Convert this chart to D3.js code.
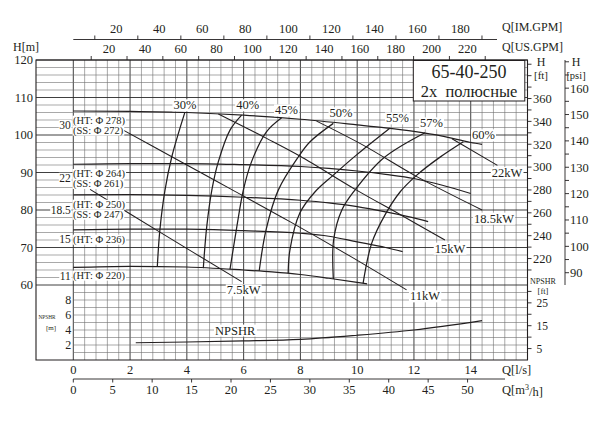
<!DOCTYPE html>
<html><head><meta charset="utf-8">
<script src="https://cdn.jsdelivr.net/npm/d3@7"></script>
<style>
body{margin:0;background:#fff}
svg{display:block}
text{font-family:"Liberation Serif","Times New Roman",serif;fill:#231f20}
</style>
</head><body>
<svg id="c" width="603" height="424"></svg>
<script>
// ---------- DATA ----------
const qLsTicks = [0,2,4,6,8,10,12,14];
const qM3Ticks = [0,5,10,15,20,25,30,35,40,45,50];
const imLabels = [20,40,60,80,100,120,140,160,180];
const imMinor = [10,30,50,70,90,110,130,150,170,190];
const usLabels = [20,40,60,80,100,120,140,160,180,200,220];
const usMinor = [10,30,50,70,90,110,130,150,170,190,210,230];
const hTicks = [60,70,80,90,100,110,120];
const npshTicks = [2,4,6,8];
const ftLabels = [220,240,260,280,300,320,340,360];
const ftMinor = [210,230,250,270,290,310,330,350,370,380,390];
const psiLabels = [90,100,110,120,130,140,150,160];
const psiMinor = [95,105,115,125,135,145,155,165,170];
const npshFtLabels = [5,15,25];
const npshFtMinor = [10,20,30];

// H-Q curves (Q l/s, H m)
const q278 = [0,2,4,6,8,10,11,12,13,14,14.4];
const h278 = [106.4,106.3,106.0,105.3,104.2,102.7,101.9,100.95,99.7,98.0,97.5];
const q264 = [0,2,4,6,8,9,10,11,12,13,14];
const h264 = [92.2,92.4,92.4,92.1,91.6,91.1,90.4,89.5,88.4,86.6,84.4];
const q250 = [0,2,4,6,8,9,10,11,12,12.5];
const h250 = [84.0,84.1,83.9,83.4,82.6,81.9,80.9,79.5,77.9,76.9];
const q236 = [0,2,4,6,8,9,10,11,11.6];
const h236 = [74.7,74.9,74.9,74.5,73.8,73.0,71.5,70.0,68.9];
const q220 = [0,2,4,6,7,8,9,10,10.35];
const h220 = [64.7,65.0,64.8,64.0,63.5,62.8,61.8,60.7,60.3];

// iso-efficiency curves
const e30Q = [2.96,3.05,3.23,3.47,3.93];            const e30H = [65.0,74.7,85.3,94.2,106.05];
const e40Q = [4.58,4.70,4.88,5.11,5.52,5.93];       const e40H = [64.5,75.5,85.3,92.9,101.3,105.3];
const e45Q = [5.52,5.76,5.99,6.28,6.81,7.34];       const e45H = [64.2,75.5,85.3,92.9,100.9,104.6];
const e50Q = [6.55,6.79,7.22,7.93,8.34,9.16];       const e50H = [63.8,74.7,85.3,94.2,98.2,103.1];
const e55Q = [7.57,7.63,7.98,8.51,9.16,9.98,11.15]; const e55H = [63.1,69.3,79.2,84.8,89.3,94.7,101.8];
const e57Q = [9.16,9.17,9.46,9.92,10.92,12.39];     const e57H = [61.6,72.0,80.0,85.3,93.8,100.6];
const e60Q = [10.21,10.51,10.98,11.51,12.1,12.92,13.74]; const e60H = [60.5,71.1,78.7,84.8,89.3,94.1,98.2];
const effNames = ["30%","40%","45%","50%","55%","57%","60%"];

// power lines
const p75Q = [0.59,3.05,5.93];                  const p75H = [85.5,74.1,60.9];
const p11Q = [1.76,3.47,5.52,7.63,9.75,11.74];  const p11H = [101.3,94.2,85.7,76.9,67.7,58.7];
const p15Q = [5.11,6.81,7.98,9.98,11.51,13.09]; const p15H = [105.6,99.1,94.4,85.3,78.8,72.0];
const p185Q = [8.57,10.21,12.10,14.40];         const p185H = [103.7,97.3,88.9,80.0];
const p22Q = [13.34,14.94];                     const p22H = [99.0,91.9];
const powerNames = ["7.5kW","11kW","15kW","18.5kW","22kW"];

// NPSHR
const nQ = [2.2,4,6,8,10,12,14.4];
const nH = [2.3,2.4,2.55,2.75,3.3,4.0,5.25];

// diameter labels
const diamNums = ["30","22","18.5","15","11"];
const diamHT = ["(HT: Φ 278)","(HT: Φ 264)","(HT: Φ 250)","(HT: Φ 236)","(HT: Φ 220)"];
const diamSS = ["(SS: Φ 272)","(SS: Φ 261)","(SS: Φ 247)",null,null];

// ---------- LAYOUT ----------
const W = 603, H = 424;
const x = d3.scaleLinear([0,16],[73.3,527.5]);
const yH = d3.scaleLinear([60,120],[285,60]);
const yN = d3.scaleLinear([0,10],[360,285]);
const LEFT = 36, TOP = 60, BOT = 360, RIGHT = x(16);
const xIM = d3.scaleLinear([0,16*13.198],[x(0),x(16)]);
const xUS = d3.scaleLinear([0,16*15.850],[x(0),x(16)]);
const xM3 = d3.scaleLinear([0,16*3.6],[x(0),x(16)]);
const yFt = d3.scaleLinear([60*3.28084,120*3.28084],[285,60]);
const yPsi = d3.scaleLinear([60/0.70307,120/0.70307],[285,60]);
const yNft = d3.scaleLinear([0,10*3.28084],[360,285]);

const INK = "#231f20";
const svg = d3.select("#c");
svg.append("rect").attr("width",W).attr("height",H).attr("fill","#fff");

const grid = svg.append("g");
const minorC = "#6f6f6f", majorC = "#2a2a2a";
// vertical grid
d3.range(0,40.5,1).forEach(i=>{
  const q = i*0.4, major = i%5===0;
  grid.append("line").attr("x1",x(q)).attr("x2",x(q)).attr("y1",TOP).attr("y2",BOT)
    .attr("stroke",major?majorC:minorC).attr("stroke-width",major?0.9:0.6);
});
// horizontal grid H region
d3.range(60,120.5,2).forEach(h=>{
  const major = h%10===0;
  grid.append("line").attr("x1",LEFT).attr("x2",RIGHT).attr("y1",yH(h)).attr("y2",yH(h))
    .attr("stroke",major?majorC:minorC).attr("stroke-width",major?0.9:0.6);
});
// NPSHR region
d3.range(1,10,1).forEach(n=>{
  grid.append("line").attr("x1",x(0)).attr("x2",RIGHT).attr("y1",yN(n)).attr("y2",yN(n))
    .attr("stroke",minorC).attr("stroke-width",0.6);
});
// frame
grid.append("path").attr("d",`M${LEFT},${TOP}H${RIGHT}V${BOT}H${LEFT}Z`).attr("fill","none").attr("stroke",INK).attr("stroke-width",1.1);

const ax = svg.append("g");
function t(x0,y0,s,size,anchor="middle",g=ax){
  return g.append("text").attr("x",x0).attr("y",y0).attr("dy","0.35em")
    .attr("text-anchor",anchor).style("font-size",size+"px").text(s);
}
// left H axis
hTicks.forEach(h=>t(LEFT-3,yH(h),h,12.5,"end"));
t(26,47,"H[m]",12);
// NPSHR left
npshTicks.forEach(n=>t(x(0)-2,yN(n),n,12,"end"));
t(47,317,"NPSHR",7).attr("textLength",17).attr("lengthAdjust","spacingAndGlyphs");
t(51,328,"[m]",7);

// bottom l/s
qLsTicks.forEach(q=>t(x(q),369.5,q,12.5));
t(502,369.5,"Q[l/s]",12.5,"start");
// m3/h
ax.append("line").attr("x1",xM3(0)).attr("x2",505).attr("y1",379).attr("y2",379).attr("stroke",INK).attr("stroke-width",0.9);
qM3Ticks.forEach(v=>{
  ax.append("line").attr("x1",xM3(v)).attr("x2",xM3(v)).attr("y1",379).attr("y2",382.5).attr("stroke",INK).attr("stroke-width",0.9);
  t(xM3(v),389.5,v,12.5);
});
const m3 = t(502,389.5,"",12.5,"start");
m3.append("tspan").text("Q[m");
m3.append("tspan").text("3").style("font-size","8px").attr("dy","-0.45em");
m3.append("tspan").text("/h]").attr("dy","0.45em");

// top IM axis
const IMY = 39.5;
ax.append("line").attr("x1",xIM(0)).attr("x2",497).attr("y1",IMY).attr("y2",IMY).attr("stroke",INK).attr("stroke-width",0.9);
imMinor.forEach(v=>ax.append("line").attr("x1",xIM(v)).attr("x2",xIM(v)).attr("y1",IMY).attr("y2",IMY-4).attr("stroke",INK).attr("stroke-width",0.9));
imLabels.forEach(v=>t(xIM(v),28.5,v,12.5));
t(502,26.5,"Q[IM.GPM]",12,"start");
// top US axis
usMinor.forEach(v=>ax.append("line").attr("x1",xUS(v)).attr("x2",xUS(v)).attr("y1",TOP).attr("y2",TOP-4).attr("stroke",INK).attr("stroke-width",0.9));
usLabels.forEach(v=>t(xUS(v),49,v,12.5));
t(502,46.5,"Q[US.GPM]",12,"start");

// right ft axis
ftLabels.concat(ftMinor).forEach(v=>ax.append("line").attr("x1",RIGHT).attr("x2",RIGHT+4).attr("y1",yFt(v)).attr("y2",yFt(v)).attr("stroke",INK).attr("stroke-width",0.9));
ftLabels.forEach(v=>t(RIGHT+5.5,yFt(v),v,12.5,"start"));
t(541,62,"H",12);
t(541,75,"[ft]",11);
// psi axis
const PX = 565;
ax.append("line").attr("x1",PX).attr("x2",PX).attr("y1",TOP).attr("y2",285).attr("stroke",INK).attr("stroke-width",0.9);
psiLabels.concat(psiMinor).forEach(v=>ax.append("line").attr("x1",PX).attr("x2",PX+4).attr("y1",yPsi(v)).attr("y2",yPsi(v)).attr("stroke",INK).attr("stroke-width",0.9));
psiLabels.forEach(v=>t(PX+5,yPsi(v),v,12.5,"start"));
t(576,62,"H",12);
t(576,75,"[psi]",10.5);
// NPSHR ft
npshFtLabels.concat(npshFtMinor).forEach(v=>ax.append("line").attr("x1",RIGHT).attr("x2",RIGHT+4).attr("y1",yNft(v)).attr("y2",yNft(v)).attr("stroke",INK).attr("stroke-width",0.9));
npshFtLabels.forEach(v=>t(RIGHT+9,yNft(v),v,11.5,"start"));
t(543,281,"NPSHR",8);
t(543,291.5,"[ft]",8.5);

// ---------- CURVES ----------
const cg = svg.append("g").attr("fill","none").attr("stroke",INK).attr("stroke-width",1.25);
const zip = (a,b)=>a.map((v,i)=>[v,b[i]]);
const lineHQ = d3.line().x(d=>x(d[0])).y(d=>yH(d[1])).curve(d3.curveMonotoneX);
const lineCR = d3.line().x(d=>x(d[0])).y(d=>yH(d[1])).curve(d3.curveCatmullRom.alpha(0.5));
[[q278,h278],[q264,h264],[q250,h250],[q236,h236],[q220,h220]].forEach(([a,b])=>cg.append("path").attr("d",lineHQ(zip(a,b))));
const effs = [[e30Q,e30H],[e40Q,e40H],[e45Q,e45H],[e50Q,e50H],[e55Q,e55H],[e57Q,e57H],[e60Q,e60H]];
effs.forEach(([a,b])=>cg.append("path").attr("d",lineCR(zip(a,b))));
const pows = [[p75Q,p75H],[p11Q,p11H],[p15Q,p15H],[p185Q,p185H],[p22Q,p22H]];
pows.forEach(([a,b])=>cg.append("path").attr("d",lineCR(zip(a,b))).attr("stroke-width",1.1));
const lineN = d3.line().x(d=>x(d[0])).y(d=>yN(d[1])).curve(d3.curveMonotoneX);
cg.append("path").attr("d",lineN(zip(nQ,nH)));

// ---------- LABELS with white background ----------
const lg = svg.append("g");
function lab(x0,y0,s,size,anchor="middle",pad=1){
  const tx = t(x0,y0,s,size,anchor,lg);
  const b = tx.node().getBBox();
  lg.insert("rect",()=>tx.node()).attr("x",b.x-pad).attr("y",b.y+1).attr("width",b.width+2*pad).attr("height",b.height-2).attr("fill","#fff");
  return tx;
}
// efficiency labels (layout positions in data units)
const effLabQ = [3.93,6.14,7.51,9.43,11.42,12.62,14.45];
const effLabH = [108,108,106.67,105.87,104.53,103.2,100];
effNames.forEach((s,i)=>lab(x(effLabQ[i]),yH(effLabH[i]),s,12.5));
// power labels
const powLabQ = [6.0,12.39,13.27,14.82,15.28];
const powLabH = [58.67,57.07,69.79,77.79,89.95];
powerNames.forEach((s,i)=>lab(x(powLabQ[i]),yH(powLabH[i]),s,12.5));
// NPSHR
lab(x(5.7),yN(3.97),"NPSHR",12.5);
// diameter labels
const numH = [102.67,88.61,80,72.27,62.48];
const htH = [104.0,89.79,81.6,72.27,62.67];
const ssH = [101.33,87.12,78.93];
diamNums.forEach((s,i)=>{
  lab(x(0)-2.5,yH(numH[i]),s,11.5,"end",0.5);
  lab(x(0)-0.3,yH(htH[i]),diamHT[i],10.5,"start",0.5);
  if(diamSS[i]) lab(x(0)-0.3,yH(ssH[i]),diamSS[i],10.5,"start",0.5);
});

// title box
const tg = svg.append("g");
const bx = 413.3, by = 60.5, bw = 111.5, bh = 40.5;
tg.append("rect").attr("x",bx).attr("y",by).attr("width",bw).attr("height",bh).attr("fill","#fff").attr("stroke",INK).attr("stroke-width",1);
t(bx+bw/2,72,"65-40-250",18,"middle",tg);
t(bx+bw/2,91,"2х  полюсные",16.5,"middle",tg).style("white-space","pre");
</script>
</body></html>
